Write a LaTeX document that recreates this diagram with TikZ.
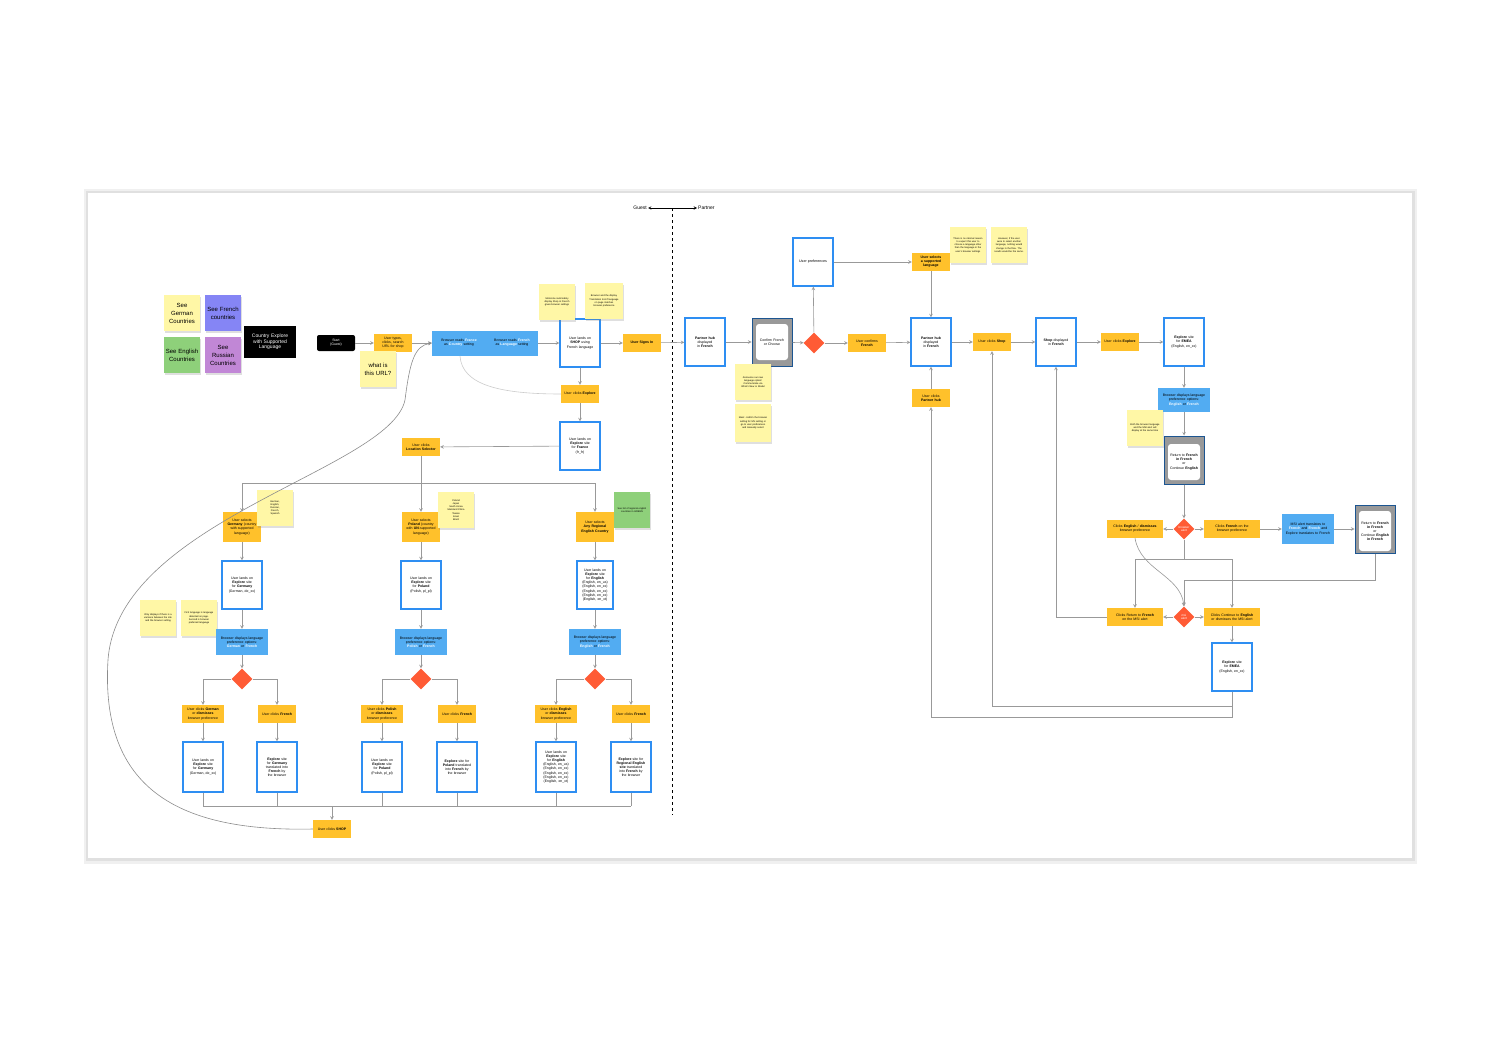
\documentclass[tikz,border=0pt]{standalone}
\usepackage{fontspec}
\setmainfont{Liberation Sans}
\usetikzlibrary{arrows,calc,shapes.geometric,shadows}
\definecolor{act}{HTML}{FFC12B}
\definecolor{sticky}{HTML}{FFF7A6}
\definecolor{infoblue}{HTML}{52ACF2}
\definecolor{pageblue}{HTML}{2E8EF2}
\definecolor{decred}{HTML}{FF5B35}
\definecolor{stgreen}{HTML}{8ED07A}
\definecolor{stblue}{HTML}{8585F5}
\definecolor{stpurple}{HTML}{C187D6}
\hyphenpenalty=10000
\tikzset{
  tx/.style={font=\fontsize{3.5}{4.1}\selectfont, align=center, inner sep=1pt},
  act/.style={tx, fill=act, minimum width=38, minimum height=18, text width=32},
  note/.style={tx, fill=sticky, minimum width=36, minimum height=36, text width=30,
    font=\fontsize{2.4}{3.2}\selectfont, drop shadow={opacity=0.25,shadow xshift=1pt,shadow yshift=-1.5pt}},
  big note/.style={note, font=\fontsize{6}{8}\selectfont, text width=34},
  page/.style={tx, draw=pageblue, line width=1.2, fill=white, minimum width=40, minimum height=48, text width=30},
  info/.style={tx, fill=infoblue, minimum width=52, minimum height=26, text width=46},
  dec/.style={diamond, fill=decred, minimum width=21, minimum height=21, inner sep=0,
    font=\fontsize{3}{3.5}\selectfont, text=white, align=center},
  dialog/.style={fill=black!40, draw=pageblue!60!black, line width=1, minimum width=40, minimum height=48},
  dlg/.style={tx, fill=white, rounded corners=3, text width=30, minimum height=36},
  line/.style={draw=black!40, line width=0.6},
  arr/.style={line, ->, >=stealth}
}
\begin{document}
\begin{tikzpicture}[x=1pt,y=-1pt]
\useasboundingbox (0,0) rectangle (1500,1052);
% card
\fill[black!6] (84,189) rectangle (1417,864);
\fill[black!12] (86,191) rectangle (1415,861);
\fill[white] (88,193) rectangle (1412,858);

% legend
\node[big note] (sde) at (182,313) {See German Countries};
\node[big note, fill=stblue] (sfr) at (223,313) {See French countries};
\node[big note, fill=stgreen] (sen) at (182,355) {See English Countries};
\node[big note, fill=stpurple] (sru) at (223,355) {See Russian Countries};
\node[tx, fill=black, text=white, minimum width=52, minimum height=32, text width=44, font=\fontsize{5}{5.5}\selectfont] (legend) at (270,342) {Country Explore with Supported Language};

% guest flow
\node[tx, fill=black, text=white, rounded corners=2, minimum width=38, minimum height=16] (start) at (336,343) {Start\\(Guest)};
\node[act] (types) at (393,343) {User types, clicks, search URL for shop};
\node[big note] (url) at (378,369) {what is this URL?};
\node[tx, fill=infoblue, minimum width=106, minimum height=25] (reads) at (485,343) {};
\node[tx, text width=46] (rcountry) at (459,343) {Browser reads \textcolor{white}{\textbf{France}} as \textcolor{white}{\textbf{Country}} setting};
\node[tx, text width=46] (rlang) at (512,343) {Browser reads \textcolor{white}{\textbf{French}} as \textcolor{white}{\textbf{Language}} setting};
\node[page] (shop) at (580,343) {User lands on \textbf{SHOP} using French language};
\node[note] (moto) at (557,302) {Motorola could safely display Shop in French given browser settings};
\node[note, minimum width=38] (trans) at (604,301) {Browser and the display Translation tool if language on page matches browser preference};
\node[act] (signin) at (642,343) {\textbf{User Signs In}};
\node[act] (explore) at (580,394) {User clicks \textbf{Explore}};
\node[page] (frfr) at (580,446) {User lands on \textbf{Explore} site for \textbf{France}\\(fr\_fr)};
\node[act] (locsel) at (421,447) {User clicks \textbf{Location Selector}};

\draw[arr] (start) -- (types);
\draw[arr] (types) -- (reads);
\draw[arr] (reads) -- (shop);
\draw[arr] (shop) -- (signin);
\draw[arr] (shop) -- (explore);
\draw[arr] (explore) -- (frfr);
\draw[arr] (frfr) -- (locsel);
\draw[line, black!20] (460,356) .. controls (462,385) and (500,394) .. (explore.west);

% three country branches
\node[act, minimum height=30] (selde) at (242,527) {User selects \textbf{Germany} (country with supported language)};
\node[note] (langde) at (275,508) {German,\\English,\\Russian,\\French,\\Spanish};
\node[act, minimum height=30] (selpl) at (421,527) {User selects \textbf{Poland} (country with \textbf{UN}-supported language)};
\node[note] (langpl) at (456,510) {Poland\\Japan\\South Korea\\Mainland China\\Taiwan\\Israel\\Brazil};
\node[act, minimum height=30] (selen) at (595,527) {User selects \textbf{Any Regional English Country}};
\node[note, fill=stgreen] (langen) at (632,510) {See list of regional english countries in GREEN};
\draw[line] (locsel) -- (421,483);
\draw[arr] (242,483) -- (selde);
\draw[arr] (421,483) -- (selpl);
\draw[arr] (242,483) -- (595,483) -- (selen);

\node[page] (lde) at (242,585) {User lands on \textbf{Explore} site for \textbf{Germany}\\(German, de\_xx)};
\node[page] (lpl) at (421,585) {User lands on \textbf{Explore} site for \textbf{Poland}\\(Polish, pl\_pl)};
\node[page, minimum width=36] (len) at (595,585) {User lands on \textbf{Explore} site for \textbf{English}\\(English, en\_us)\\(English, en\_xx)\\(English, en\_xx)\\(English, en\_xx)\\(English, en\_xt)};
\node[note] (onlyif) at (158,618) {Only displays if there is a variance between the site and the browser setting};
\node[note] (first) at (199,618) {First language is language detected on page. Second is browser preferred language};
\node[info] (bde) at (242,642) {Browser displays language preference options:\\\textcolor{white}{\textbf{German}} or \textcolor{white}{\textbf{French}}};
\node[info] (bpl) at (421,642) {Browser displays language preference options:\\\textcolor{white}{\textbf{Polish}} or \textcolor{white}{\textbf{French}}};
\node[info] (ben) at (595,642) {Browser displays language preference options:\\\textcolor{white}{\textbf{English}} or \textcolor{white}{\textbf{French}}};
\node[dec] (dde) at (242,679) {};
\node[dec] (dpl) at (421,679) {};
\node[dec] (den) at (595,679) {};
\foreach \a in {de,pl,en} {
  \draw[arr] (sel\a) -- (l\a);
  \draw[arr] (l\a) -- (b\a);
  \draw[arr] (b\a) -- (d\a);
}

\node[act, minimum width=42, text width=40] (kde) at (203,714) {User clicks \textbf{German} or \textbf{dismisses} browser preference};
\node[act] (fde) at (277,714) {User clicks \textbf{French}};
\node[act, minimum width=42, text width=40] (kpl) at (382,714) {User clicks \textbf{Polish} or \textbf{dismisses} browser preference};
\node[act] (fpl) at (457,714) {User clicks \textbf{French}};
\node[act, minimum width=42, text width=40] (ken) at (556,714) {User clicks \textbf{English} or \textbf{dismisses} browser preference};
\node[act] (fen) at (631,714) {User clicks \textbf{French}};
\draw[arr] (dde.west) -| (kde);
\draw[arr] (dde.east) -| (fde);
\draw[arr] (dpl.west) -| (kpl);
\draw[arr] (dpl.east) -| (fpl);
\draw[arr] (den.west) -| (ken);
\draw[arr] (den.east) -| (fen);

\node[page, minimum height=50] (ede) at (203,767) {User lands on \textbf{Explore} site for \textbf{Germany}\\(German, de\_xx)};
\node[page, minimum height=50] (tde) at (277,767) {\textbf{Explore} site for \textbf{Germany} translated into \textbf{French} by the browser};
\node[page, minimum height=50] (epl) at (382,767) {User lands on \textbf{Explore} site for \textbf{Poland}\\(Polish, pl\_pl)};
\node[page, minimum height=50] (tpl) at (457,767) {\textbf{Explore} site for \textbf{Poland} translated into \textbf{French} by the browser};
\node[page, minimum height=50] (een) at (556,767) {User lands on \textbf{Explore} site for \textbf{English}\\(English, en\_us)\\(English, en\_xx)\\(English, en\_xx)\\(English, en\_xx)\\(English, en\_xt)};
\node[page, minimum height=50] (ten) at (631,767) {\textbf{Explore} site for \textbf{Regional English site} translated into \textbf{French} by the browser};
\foreach \a in {de,pl,en} {
  \draw[arr] (k\a) -- (e\a);
  \draw[arr] (f\a) -- (t\a);
  \draw[line] (e\a) -- (e\a |- 0,806);
  \draw[line] (t\a) -- (t\a |- 0,806);
}
\draw[line] (203,806) -- (631,806);
\node[act] (clickshop) at (332,829) {User clicks \textbf{SHOP}};
\draw[arr] (332,806) -- (clickshop);
\draw[arr, black!45] (clickshop.west) .. controls (180,832) and (100,790) .. (108,660)
  .. controls (118,520) and (390,470) .. (405,400) .. controls (410,360) and (415,346) .. (reads.west);

% guest / partner divider
\coordinate (divtop) at (672,208);
\coordinate (divbot) at (672,815);
\draw[dashed, line width=1] (divtop) -- (divbot);
\node[tx, font=\fontsize{5}{6}\selectfont, anchor=east] (guest) at (648,208) {Guest};
\node[tx, font=\fontsize{5}{6}\selectfont, anchor=west] (partner) at (697,208) {Partner};
\draw[->, >=stealth, line width=0.5] (divtop) -- (guest);
\draw[->, >=stealth, line width=0.5] (divtop) -- (partner);

% partner flow
\node[page] (hub) at (705,342) {\textbf{Partner hub} displayed in \textbf{French}};
\node[dialog] (confirm) at (772,342) {};
\node[dlg] (confirmtx) at (772,342) {Confirm French or Choose};
\node[dec] (dconf) at (814,343) {};
\node[page, font=\fontsize{3.6}{4}\selectfont, text width=38] (prefs) at (813,262) {User preferences};
\node[act] (confirms) at (867,343) {User confirms \textbf{French}};
\node[act] (selsup) at (931,262) {\textbf{User selects a supported language}};
\node[note] (noreason) at (968,245) {There is no rational reason to expect this user to choose a language other than the language in the user's browser settings};
\node[note] (however) at (1009,245) {However, if the user were to select another language, nothing would change in the flow. The results would be the same.};
\node[note] (announce) at (753,382) {Announce our new language option! Communicate via What's New or Modal};
\node[note, minimum height=38] (ideal) at (753,423) {Ideal: confirm the browser setting for MV setting or go to user preferences and manually select};
\node[page] (hub2) at (931,342) {\textbf{Partner hub} displayed in \textbf{French}};
\node[act] (clickhub) at (931,398) {User clicks \textbf{Partner hub}};
\node[act] (clickshop2) at (992,342) {User clicks \textbf{Shop}};
\node[page] (shopfr) at (1056,342) {\textbf{Shop} displayed in \textbf{French}};
\node[act] (clickexp) at (1120,342) {User clicks \textbf{Explore}};
\node[page] (emea) at (1184,342) {\textbf{Explore} site for \textbf{EMEA}\\(English, en\_xx)};

\draw[arr] (signin) -- (hub);
\draw[arr] (hub) -- (confirm);
\draw[arr] (confirm) -- (dconf);
\draw[arr] (dconf) -- (prefs);
\draw[arr] (prefs) -- (selsup);
\draw[arr] (dconf) -- (confirms);
\draw[arr] (confirms) -- (hub2);
\draw[arr] (selsup) -- (hub2);
\draw[arr] (clickhub) -- (hub2);
\draw[arr] (hub2) -- (clickshop2);
\draw[arr] (clickshop2) -- (shopfr);
\draw[arr] (shopfr) -- (clickexp);
\draw[arr] (clickexp) -- (emea);

\node[info, minimum height=24] (bemea) at (1184,400) {Browser displays language preference options:\\\textcolor{white}{\textbf{English}} or \textcolor{white}{\textbf{French}}};
\node[note] (both) at (1145,428) {Both the browser language and the MSI alert will display at the same time};
\node[dialog] (ret) at (1184,460) {};
\node[dlg] (rettx) at (1184,462) {Return to \textbf{French in French}\\or\\Continue \textbf{English}};
\node[dec] (dbrowser) at (1184,529) {browser\\alert};
\node[act, minimum width=56, text width=50] (clicken) at (1135,529) {Clicks \textbf{English} / \textbf{dismisses} browser preference};
\node[act, minimum width=56, text width=50] (clickfr) at (1232,529) {Clicks \textbf{French} on the browser preference};
\node[info, minimum height=30] (msifr) at (1308,529) {MSI alert translates to \textcolor{white}{\textbf{French}} and \textcolor{white}{\textbf{French}} and Explore translates to French};
\node[dialog] (ret2) at (1375,529) {};
\node[dlg, minimum height=40] (ret2tx) at (1375,531) {Return to \textbf{French in French}\\or\\Continue \textbf{English in French}};
\node[dec] (dmsi) at (1184,617) {msi\\alert};
\node[act, minimum width=56, text width=50] (clickret) at (1135,617) {Clicks Return to \textbf{French} on the MSI alert};
\node[act, minimum width=56, text width=50] (clickcont) at (1232,617) {Clicks Continue to \textbf{English} or dismisses the MSI alert};
\node[page] (emea2) at (1232,667) {\textbf{Explore} site for \textbf{EMEA}\\(English, en\_xx)};

\draw[arr] (emea) -- (bemea);
\draw[arr] (bemea) -- (ret);
\draw[arr] (ret) -- (dbrowser);
\draw[arr] (dbrowser) -- (clicken);
\draw[arr] (dbrowser) -- (clickfr);
\draw[arr] (clickfr) -- (msifr);
\draw[arr] (msifr) -- (ret2);
\draw[line] (dbrowser) -- (1184,559);
\draw[line] (1135,559) -- (1232,559);
\draw[arr] (1135,559) -- (clickret);
\draw[arr] (1232,559) -- (clickcont);
\draw[arr] (1135,538) .. controls (1140,570) and (1180,575) .. (dmsi.north);
\draw[arr] (ret2) |- (1184,580) -- (dmsi);
\draw[arr] (dmsi) -- (clickret);
\draw[arr] (dmsi) -- (clickcont);
\draw[arr] (clickcont) -- (emea2);
\draw[arr] (clickret.west) -| (shopfr);
\draw[arr] (emea2.south) -- (1232,717) -| (clickhub);
\draw[arr] (1232,706) -| (clickshop2);
\end{tikzpicture}
\end{document}
